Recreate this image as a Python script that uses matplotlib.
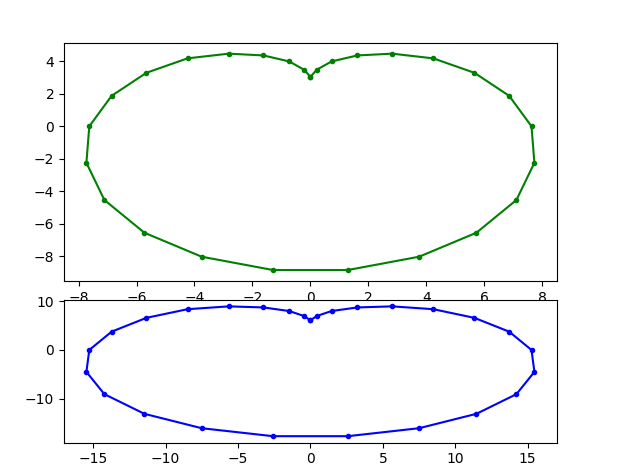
import matplotlib
matplotlib.use("Agg")
import matplotlib.pyplot as plt

# Top (green) curve
x_top = [0.0, 0.22, 0.73, 1.62, 2.82, 4.24, 5.66, 6.86, 7.63, 7.73, 7.11, 5.73, 3.75, 1.29,
         -1.29, -3.75, -5.73, -7.11, -7.73, -7.63, -6.86, -5.66, -4.24, -2.82, -1.62, -0.73, -0.22, 0.0]
y_top = [3.05, 3.49, 4.00, 4.37, 4.48, 4.19, 3.30, 1.88, 0.00, -2.25, -4.54, -6.56, -8.04, -8.86,
         -8.86, -8.04, -6.56, -4.54, -2.25, 0.00, 1.88, 3.30, 4.19, 4.48, 4.37, 4.00, 3.49, 3.05]

# Bottom (blue) curve
x_bot = [0.0, 0.44, 1.46, 3.24, 5.64, 8.48, 11.32, 13.72, 15.26, 15.46, 14.22, 11.46, 7.50, 2.58,
         -2.58, -7.50, -11.46, -14.22, -15.46, -15.26, -13.72, -11.32, -8.48, -5.64, -3.24, -1.46, -0.44, 0.0]
y_bot = [6.10, 6.98, 8.00, 8.74, 8.96, 8.38, 6.60, 3.76, 0.00, -4.50, -9.08, -13.12, -16.08, -17.72,
         -17.72, -16.08, -13.12, -9.08, -4.50, 0.00, 3.76, 6.60, 8.38, 8.96, 8.74, 8.00, 6.98, 6.10]

fig = plt.figure(figsize=(6.4, 4.76), dpi=100)
ax1 = fig.add_axes([0.1, 0.41, 0.77, 0.5])
ax2 = fig.add_axes([0.1, 0.07, 0.77, 0.3])

ax1.plot(x_top, y_top, 'g.-')
ax2.plot(x_bot, y_bot, 'b.-')

fig.savefig("out.png", dpi=100)
